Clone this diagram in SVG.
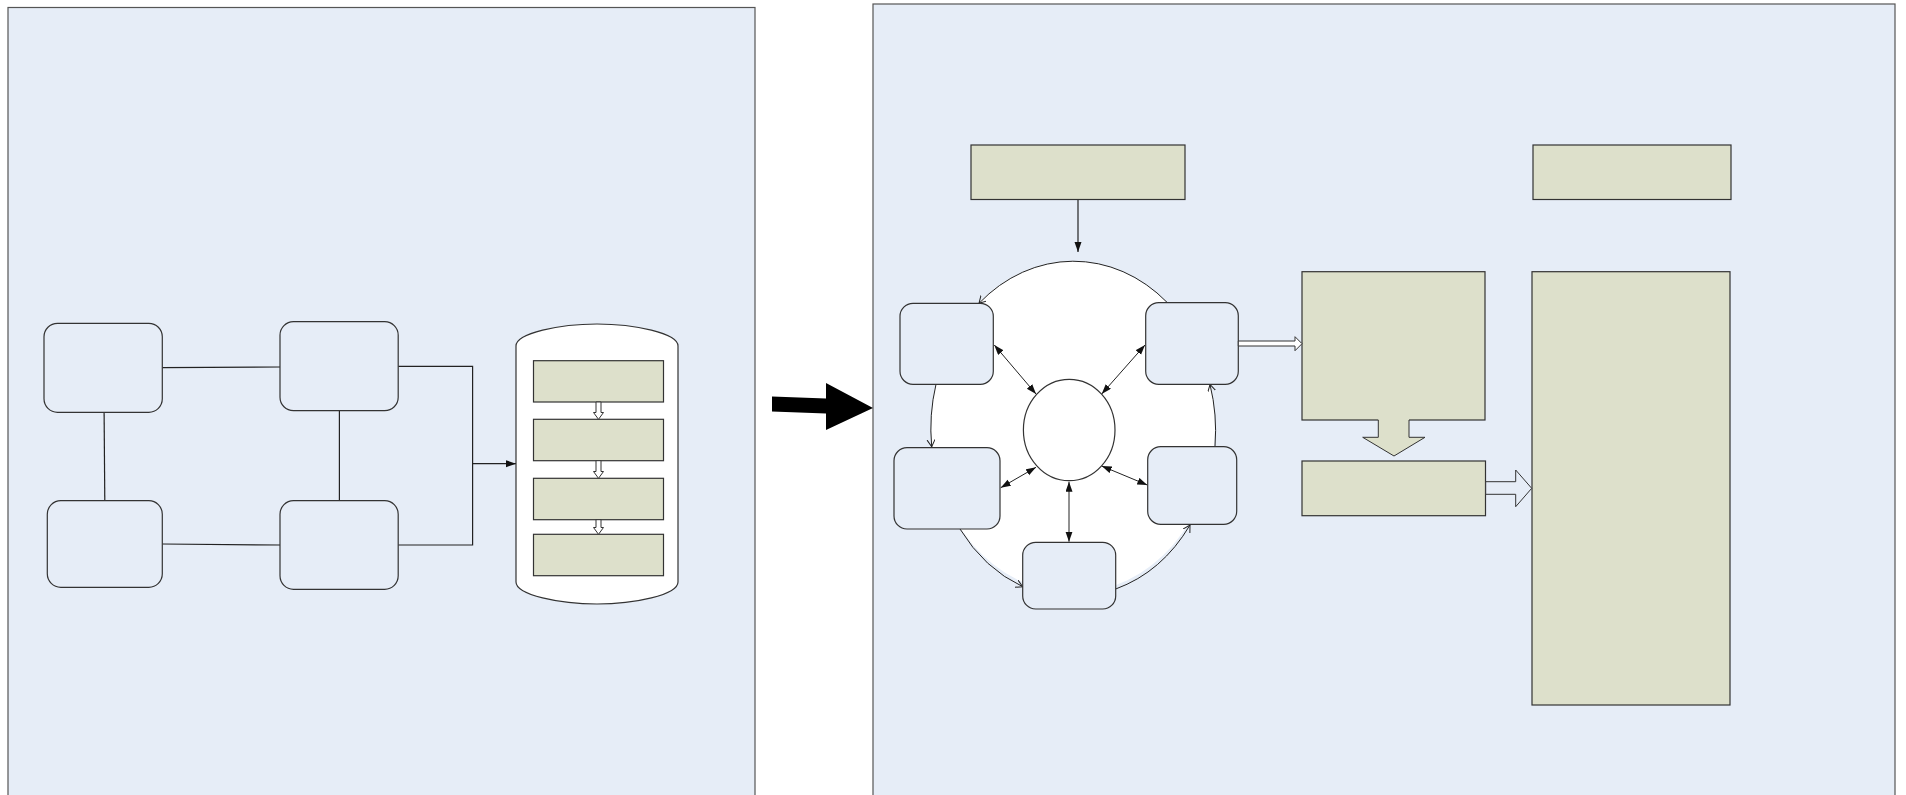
<svg xmlns="http://www.w3.org/2000/svg" width="1906" height="795" viewBox="0 0 1906 795">
<style>
.panel{fill:#E6EDF7;stroke:#555;stroke-width:1.2}
.rbox{fill:#E6EDF7;stroke:#333;stroke-width:1.2}
.green{fill:#DDE0CB;stroke:#333;stroke-width:1.2}
.white{fill:#fff;stroke:#333;stroke-width:1.2}
.line{fill:none;stroke:#222;stroke-width:1.2}
.thin{fill:none;stroke:#222;stroke-width:1}
.hollow{fill:#fff;stroke:#333;stroke-width:1}
</style>
<defs>
<marker id="fa" markerUnits="userSpaceOnUse" markerWidth="11" markerHeight="8" refX="10" refY="3.5" orient="auto-start-reverse">
<path d="M0,0 L10,3.5 L0,7 Z" fill="#111"/>
</marker>
<marker id="oa" markerUnits="userSpaceOnUse" markerWidth="10" markerHeight="10" refX="7" refY="4" orient="auto">
<path d="M0,0 L7,4 L0,8" fill="none" stroke="#222" stroke-width="1"/>
</marker>
</defs>
<rect width="1906" height="795" fill="#fff"/>
<g id="panel-left"><rect class="panel" x="8" y="7.5" width="747" height="800"/></g>
<g id="panel-right"><rect class="panel" x="873" y="4" width="1022" height="800"/></g>

<g id="connectors">
<path class="line" d="M162.3,367.7 L280,367"/>
<path class="line" d="M104.1,412.3 L104.8,500.7"/>
<path class="line" d="M339.4,410.7 V500.7"/>
<path class="line" d="M162.3,544 L280,545"/>
<path class="line" d="M398.2,366.3 H472.6 V545 H398.2"/>
<path class="line" d="M472.6,463.7 H516" marker-end="url(#fa)"/>
<path class="line" d="M1078,199.5 V252" marker-end="url(#fa)"/>
</g>

<g id="node-a"><rect class="rbox" x="44" y="323.3" width="118.3" height="89" rx="13.5"/></g>
<g id="node-b"><rect class="rbox" x="280" y="321.7" width="118.2" height="89" rx="13.5"/></g>
<g id="node-c"><rect class="rbox" x="47.3" y="500.7" width="115" height="86.6" rx="13.5"/></g>
<g id="node-d"><rect class="rbox" x="280" y="500.7" width="118.2" height="88.6" rx="13.5"/></g>

<g id="node-cylinder">
<path class="white" d="M516,346 C516,333 560,324 597,324 C634,324 678,333 678,346 V582 C678,595 634,604 597,604 C560,604 516,595 516,582 Z"/>
<rect class="green" x="533.5" y="360.7" width="130" height="41.3"/>
<rect class="green" x="533.5" y="419.3" width="130" height="41.4"/>
<rect class="green" x="533.5" y="478.3" width="130" height="41.4"/>
<rect class="green" x="533.5" y="534.3" width="130" height="41.4"/>
<polygon class="hollow" points="596,402 601,402 601,412.5 603.5,412.5 598.5,419.3 593.5,412.5 596,412.5"/>
<polygon class="hollow" points="596,460.7 601,460.7 601,471.5 603.5,471.5 598.5,478.3 593.5,471.5 596,471.5"/>
<polygon class="hollow" points="596,519.7 601,519.7 601,527.5 603.5,527.5 598.5,534.3 593.5,527.5 596,527.5"/>
</g>

<g id="big-arrow">
<polygon points="772,396.5 826,398.5 826,383 873,408 826,430 826,413.5 772,411.5" fill="#000"/>
</g>

<g id="node-top-left-green"><rect class="green" x="971" y="145" width="214" height="54.5"/></g>
<g id="node-top-right-green"><rect class="green" x="1533" y="145" width="198" height="54.5"/></g>

<g id="cycle-bg"><ellipse cx="1073" cy="427" rx="142" ry="166" fill="#fff"/></g>

<g id="cycle-connectors">
<path class="thin" d="M1167,302.3 A142,166 0 0 0 979,303.3" marker-end="url(#oa)"/>
<path class="thin" d="M936,384.3 A142,166 0 0 0 931.7,446.7" marker-end="url(#oa)"/>
<path class="thin" d="M960,529 A142,166 0 0 0 1022.7,586.7" marker-end="url(#oa)"/>
<path class="thin" d="M1115.7,589 A142,166 0 0 0 1190,525" marker-end="url(#oa)"/>
<path class="thin" d="M1215,446 A142,166 0 0 0 1210,384.5" marker-end="url(#oa)"/>
<path class="thin" d="M994.3,345 L1036,394" marker-start="url(#fa)" marker-end="url(#fa)"/>
<path class="thin" d="M1145,345 L1101.7,394" marker-start="url(#fa)" marker-end="url(#fa)"/>
<path class="thin" d="M1000.7,487.7 L1036,467.3" marker-start="url(#fa)" marker-end="url(#fa)"/>
<path class="thin" d="M1147.3,485 L1101.7,466" marker-start="url(#fa)" marker-end="url(#fa)"/>
<path class="thin" d="M1069,481.7 L1069,541.7" marker-start="url(#fa)" marker-end="url(#fa)"/>
</g>

<g id="node-center"><ellipse class="white" cx="1069.2" cy="430" rx="45.8" ry="50.7"/></g>
<g id="node-tl"><rect class="rbox" x="900" y="303.3" width="93.3" height="81" rx="13"/></g>
<g id="node-tr"><rect class="rbox" x="1145.7" y="302.7" width="92.6" height="81.6" rx="13"/></g>
<g id="node-ml"><rect class="rbox" x="894" y="447.7" width="106" height="81.3" rx="13"/></g>
<g id="node-mr"><rect class="rbox" x="1147.7" y="446.7" width="89" height="77.6" rx="13"/></g>
<g id="node-bottom"><rect class="rbox" x="1022.7" y="542.3" width="93" height="66.7" rx="13"/></g>

<g id="node-mid-green"><rect class="green" x="1302" y="271.7" width="183" height="148.3"/></g>
<g id="node-tall-green"><rect class="green" x="1532" y="271.7" width="198" height="433.3"/></g>
<g id="node-small-green"><rect class="green" x="1302" y="461" width="183.5" height="54.7"/></g>

<g id="block-arrows">
<polygon class="hollow" points="1238.3,341 1295,341 1295,336.7 1302,343.7 1295,350.7 1295,346 1238.3,346"/>
<polygon points="1378.3,418.5 1409,418.5 1409,437.3 1425,437.3 1394,456 1362.7,437.3 1378.3,437.3" fill="#DDE0CB"/>
<path d="M1378.3,420 V437.3 H1362.7 L1394,456 L1425,437.3 H1409 V420" fill="none" stroke="#333" stroke-width="1"/>
<polygon points="1485.7,481.7 1515.7,481.7 1515.7,470 1531.7,488.3 1515.7,506.7 1515.7,494.3 1485.7,494.3" fill="#E6EDF7" stroke="#333" stroke-width="1"/>
</g>
</svg>
